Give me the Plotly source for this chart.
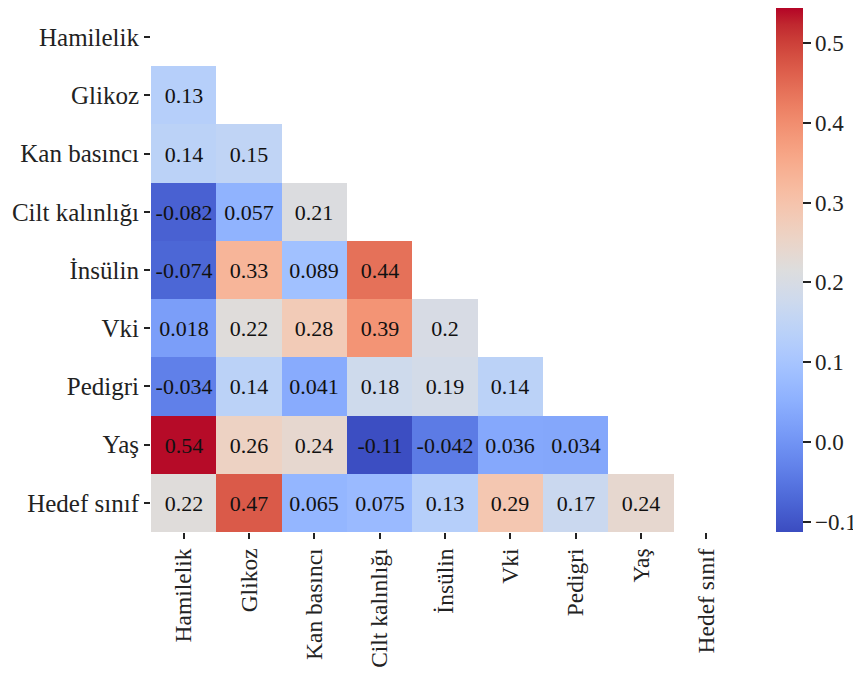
import plotly.graph_objects as go

labels = ["Hamilelik", "Glikoz", "Kan basıncı", "Cilt kalınlığı", "İnsülin",
          "Vki", "Pedigri", "Yaş", "Hedef sınıf"]

# lower-triangle correlation values (row i has i values)
row_glikoz = [0.13]
row_kan = [0.14, 0.15]
row_cilt = [-0.082, 0.057, 0.21]
row_insulin = [-0.074, 0.33, 0.089, 0.44]
row_vki = [0.018, 0.22, 0.28, 0.39, 0.2]
row_pedigri = [-0.034, 0.14, 0.041, 0.18, 0.19, 0.14]
row_yas = [0.54, 0.26, 0.24, -0.11, -0.042, 0.036, 0.034]
row_hedef = [0.22, 0.47, 0.065, 0.075, 0.13, 0.29, 0.17, 0.24]

lower_rows = [[], row_glikoz, row_kan, row_cilt, row_insulin, row_vki,
              row_pedigri, row_yas, row_hedef]

colorbar_min = -0.113
colorbar_max = 0.544
colorbar_ticks = [-0.1, 0.0, 0.1, 0.2, 0.3, 0.4, 0.5]

n = len(labels)
z = []
text = []
for i in range(n):
    r = lower_rows[i]
    z.append(list(r) + [None] * (n - len(r)))
    text.append([format(v, ".2g") for v in r] + [""] * (n - len(r)))

coolwarm = [
    (0.0, (59, 76, 192)), (0.03125, (68, 90, 204)), (0.0625, (77, 104, 215)),
    (0.09375, (87, 117, 225)), (0.125, (98, 130, 234)), (0.15625, (108, 142, 241)),
    (0.1875, (119, 154, 247)), (0.21875, (130, 165, 251)), (0.25, (141, 176, 254)),
    (0.28125, (152, 185, 255)), (0.3125, (163, 194, 255)), (0.34375, (174, 201, 253)),
    (0.375, (184, 208, 249)), (0.40625, (194, 213, 244)), (0.4375, (204, 217, 238)),
    (0.46875, (213, 219, 230)), (0.5, (221, 221, 221)), (0.53125, (229, 216, 209)),
    (0.5625, (236, 211, 197)), (0.59375, (241, 204, 185)), (0.625, (245, 196, 173)),
    (0.65625, (247, 187, 160)), (0.6875, (247, 177, 148)), (0.71875, (247, 166, 135)),
    (0.75, (244, 154, 123)), (0.78125, (241, 141, 111)), (0.8125, (236, 127, 99)),
    (0.84375, (229, 112, 88)), (0.875, (222, 96, 77)), (0.90625, (213, 80, 66)),
    (0.9375, (203, 62, 56)), (0.96875, (192, 40, 47)), (1.0, (180, 4, 38)),
]
colorscale = [[p, "rgb(%d,%d,%d)" % c] for p, c in coolwarm]

FONT = "Liberation Serif, Times New Roman, serif"

fig = go.Figure(go.Heatmap(
    z=z, x=labels, y=labels, text=text, texttemplate="%{text}",
    textfont=dict(family=FONT, size=22, color="#111111"),
    colorscale=colorscale, zmin=colorbar_min, zmax=colorbar_max,
    hoverongaps=False, xgap=0, ygap=0,
    colorbar=dict(
        x=1.063, xanchor="left", xpad=0, ypad=0, y=0.5, yanchor="middle",
        len=1.0, lenmode="fraction", thickness=27, outlinewidth=0,
        tickvals=colorbar_ticks, ticktext=[("−0.1" if t < 0 else "%.1f" % t) for t in colorbar_ticks],
        ticks="outside", ticklen=8, tickwidth=1.5, tickcolor="#222222",
        tickfont=dict(family=FONT, size=23, color="#222222"),
    ),
))

# page body adds an 8px offset; figure sized so the page fits the 861x673 window
fig.update_layout(
    width=853, height=665,
    margin=dict(l=143, r=122, t=0, b=141, pad=0, autoexpand=False),
    paper_bgcolor="white", plot_bgcolor="white",
    font=dict(family=FONT, color="#222222"),
)
fig.update_xaxes(
    showgrid=False, zeroline=False, showline=False, tickangle=-90,
    ticks="outside", ticklen=6, tickwidth=1.5, tickcolor="#222222",
    tickfont=dict(family=FONT, size=23.5, color="#222222"),
)
fig.update_yaxes(
    showgrid=False, zeroline=False, showline=False, autorange="reversed",
    ticks="outside", ticklen=6, tickwidth=1.5, tickcolor="#222222",
    tickfont=dict(family=FONT, size=25, color="#222222"),
)

fig.write_html("out.html")
